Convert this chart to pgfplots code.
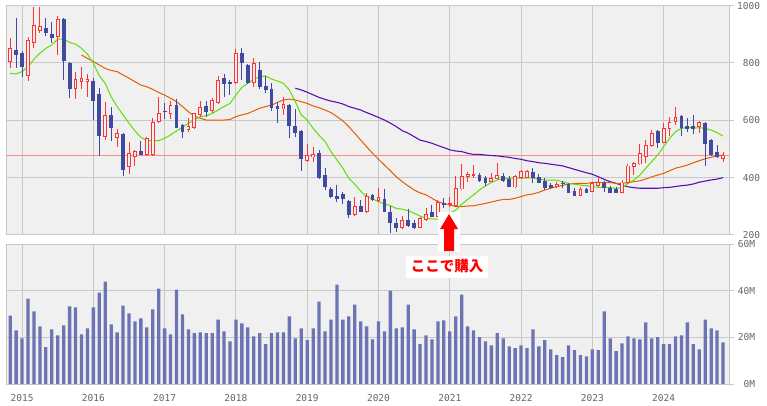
\documentclass[border=0pt]{standalone}
\usepackage{pgfplots}
\pgfplotsset{compat=1.18}
\usepackage{pgfplotstable}
\usepackage{fontspec}
\setmainfont{Liberation Sans}
\newfontfamily\lblfont{DejaVu Sans Mono}
\newfontfamily\cjk{Noto Sans CJK JP}
\definecolor{bg}{HTML}{F0F0F0}
\definecolor{gridc}{HTML}{C8C8C8}
\definecolor{upc}{HTML}{FF3333}
\definecolor{dnc}{HTML}{3F4AA0}
\definecolor{volc}{HTML}{6C74B3}
\definecolor{maA}{HTML}{5CE000}
\definecolor{maB}{HTML}{E65C00}
\definecolor{maC}{HTML}{5A10B0}
\definecolor{hline}{HTML}{FF8A8A}
\definecolor{lbl}{HTML}{666666}

\pgfplotstableread{
n o h l c
1 805 886 781 851
4 755 890 738 880
5 871 994 851 933
6 913 994 906 929
9 892 964 828 952
12 708 770 674 743
13 735 785 709 747
14 735 762 683 743
17 543 663 531 619
19 540 569 508 555
21 436 523 412 485
22 473 497 442 493
24 479 543 477 537
25 479 607 477 593
26 594 683 590 624
28 621 667 605 653
31 566 607 560 581
32 572 627 570 624
33 619 667 610 645
35 633 677 624 671
36 662 755 657 741
39 731 848 727 834
42 729 816 715 799
47 638 683 619 656
51 458 517 456 479
52 471 508 456 483
59 270 331 267 301
61 279 345 276 337
63 320 363 316 331
67 226 267 220 252
70 226 264 223 258
71 252 293 249 272
73 264 322 262 316
75 307 334 297 310
76 301 405 299 363
77 359 447 357 406
78 404 421 386 413
79 408 444 398 412
82 386 415 384 400
83 395 450 394 409
86 366 410 365 406
87 398 427 395 423
88 400 427 398 424
93 369 386 363 379
97 337 369 337 359
99 351 386 351 380
100 372 398 369 386
104 348 392 345 383
105 380 447 377 442
106 436 456 409 452
107 446 517 444 485
108 473 531 452 514
109 512 566 508 555
111 522 590 520 572
112 569 613 547 595
113 595 648 584 610
117 576 599 557 593
121 464 491 453 477
}\upC

\pgfplotstableread{
n o h l c
2 845 956 781 828
3 836 843 752 787
7 921 956 895 903
8 901 944 871 888
10 953 956 741 808
11 799 802 679 708
15 737 747 601 669
16 691 712 477 545
18 619 645 528 574
20 552 555 407 427
23 493 528 479 479
27 633 659 605 630
29 653 674 574 574
30 584 587 540 560
34 650 667 613 630
37 747 762 683 726
38 735 741 688 726
40 836 853 741 799
41 793 797 727 731
43 776 802 708 715
44 720 755 697 706
45 709 729 634 642
46 650 665 592 640
48 653 656 537 581
49 580 640 543 555
50 563 566 424 465
53 485 497 395 398
54 409 433 357 366
55 360 369 328 331
56 336 374 316 326
57 343 349 308 326
58 320 322 258 270
60 301 322 279 281
62 340 342 319 322
64 324 359 279 281
65 279 301 206 243
66 241 258 212 226
68 252 291 229 233
69 241 252 220 223
72 281 305 262 264
74 311 330 293 307
80 409 417 386 388
81 400 406 371 383
84 406 417 386 388
85 394 406 366 369
89 421 433 383 400
90 403 413 383 383
91 390 398 357 365
92 375 383 363 365
94 383 388 363 378
95 377 383 348 348
96 353 363 337 337
98 360 365 348 348
101 380 388 351 365
102 365 372 345 348
103 359 366 345 348
110 563 566 502 520
114 616 619 545 574
115 580 607 560 569
116 580 619 551 569
118 590 593 442 516
119 531 535 476 479
120 488 514 467 473
}\dnC

\pgfplotstableread{
n v
1 764
2 762
3 770
4 787
5 813
6 834
7 851
8 863
9 883
10 883
11 872
12 866
13 851
14 831
15 799
16 755
17 729
18 682
19 648
20 619
21 590
22 563
23 541
24 529
25 529
26 529
27 537
28 549
29 563
30 576
31 590
32 601
33 613
34 616
35 624
36 636
37 648
38 659
39 688
40 715
41 729
42 744
43 752
44 755
45 744
46 737
47 729
48 706
49 665
50 619
51 601
52 572
53 548
54 526
55 491
56 462
57 433
58 398
59 377
60 353
61 334
62 326
63 316
64 308
65 302
66 293
67 290
68 285
69 276
70 266
71 258
72 256
73 255
74 264
75 276
76 287
77 307
78 324
79 340
80 357
81 371
82 383
83 392
84 397
85 398
86 398
87 398
88 399
89 399
90 395
91 392
92 391
93 391
94 386
95 380
96 377
97 374
98 372
99 369
100 366
101 366
102 365
103 363
104 365
105 380
106 392
107 409
108 433
109 456
110 479
111 508
112 537
113 560
114 572
115 575
116 574
117 574
118 572
119 566
120 557
121 545
}\maA

\pgfplotstableread{
n v
13 828
14 816
15 805
16 793
17 781
18 774
19 770
20 758
21 747
22 735
23 723
24 717
25 708
26 697
27 688
28 677
29 665
30 648
31 630
32 615
33 607
34 601
35 601
36 601
37 601
38 603
39 613
40 619
41 624
42 633
43 642
44 648
45 653
46 663
47 671
48 674
49 671
50 665
51 659
52 650
53 644
54 636
55 627
56 613
57 598
58 578
59 555
60 531
61 508
62 485
63 464
64 444
65 424
66 403
67 386
68 371
69 357
70 347
71 340
72 328
73 316
74 310
75 305
76 299
77 299
78 301
79 302
80 306
81 310
82 315
83 320
84 324
85 324
86 328
87 334
88 340
89 343
90 349
91 357
92 363
93 369
94 373
95 378
96 380
97 380
98 380
99 383
100 384
101 383
102 383
103 380
104 380
105 383
106 386
107 389
108 395
109 403
110 409
111 415
112 424
113 433
114 438
115 444
116 452
117 459
118 466
119 471
120 476
121 479
}\maB

\pgfplotstableread{
n v
49 712
50 706
51 698
52 689
53 680
54 673
55 667
56 663
57 657
58 648
59 642
60 636
61 627
62 619
63 610
64 601
65 590
66 578
67 564
68 555
69 543
70 531
71 526
72 520
73 512
74 505
75 497
76 493
77 491
78 485
79 481
80 481
81 479
82 477
83 476
84 473
85 471
86 467
87 464
88 459
89 456
90 452
91 450
92 447
93 444
94 441
95 435
96 429
97 423
98 417
99 412
100 403
101 394
102 386
103 380
104 374
105 368
106 365
107 363
108 363
109 363
110 363
111 365
112 366
113 369
114 372
115 374
116 378
117 384
118 388
119 392
120 395
121 400
}\maC

\pgfplotstableread{
n v
1 29.4
2 23.0
3 19.6
4 36.7
5 31.2
6 24.8
7 15.8
8 23.5
9 20.9
10 25.2
11 33.3
12 32.9
13 21.3
14 23.9
15 32.9
16 39.3
17 44.0
18 25.6
19 22.2
20 33.7
21 30.3
22 26.9
23 28.2
24 24.3
25 32.0
26 41.0
27 23.9
28 21.3
29 40.5
30 29.9
31 23.5
32 21.8
33 22.2
34 21.8
35 21.8
36 27.7
37 22.6
38 18.3
39 27.7
40 26.0
41 24.3
42 20.5
43 21.8
44 17.1
45 21.8
46 22.2
47 22.2
48 29.0
49 19.6
50 23.9
51 18.8
52 23.9
53 35.4
54 22.6
55 27.7
56 42.7
57 27.7
58 29.0
59 34.1
60 26.9
61 24.8
62 19.2
63 26.9
64 22.6
65 40.1
66 23.9
67 24.3
68 34.1
69 23.5
70 17.1
71 20.9
72 19.2
73 26.9
74 27.3
75 22.6
76 29.0
77 38.4
78 24.8
79 23.0
80 20.1
81 18.3
82 16.6
83 21.8
84 19.6
85 16.2
86 15.4
87 16.6
88 15.4
89 23.5
90 16.2
91 18.8
92 14.9
93 12.4
94 11.5
95 16.6
96 14.5
97 12.4
98 11.9
99 14.9
100 14.5
101 31.2
102 19.6
103 14.1
104 17.5
105 20.5
106 19.6
107 19.2
108 26.5
109 19.6
110 20.1
111 17.1
112 17.1
113 20.5
114 20.9
115 26.5
116 17.1
117 14.9
118 27.7
119 23.9
120 23.0
121 17.9
}\vol

\pgfplotsset{
  chartbase/.style={
    scale only axis, width=722.9pt,
    xmin=0.343, xmax=122.04,
    axis background/.style={fill=bg},
    axis line style={draw=gridc, line width=1pt},
    xtick={3,15,...,111},
    ytick pos=right, yticklabel pos=right,
    tick align=outside, major tick length=5pt,
    xtick style={draw=none},
    ytick style={draw=gridc, line width=1pt},
    yticklabel style={font=\lblfont\fontsize{9.5}{11}\selectfont, text=lbl, anchor=east, inner sep=0pt},
    xticklabel style={font=\lblfont\fontsize{9.5}{11}\selectfont, text=lbl, anchor=north, inner sep=0pt},
    grid=major, grid style={draw=gridc, line width=1pt},
    /pgf/number format/assume math mode=true,
    /pgf/number format/1000 sep={},
  },
  wick/.style={draw=none, no markers, forget plot,
    error bars/.cd, y dir=plus, y explicit, error mark=none,
    error bar style={draw=#1, line width=1pt, solid}},
  body/.style 2 args={draw=none, no markers, forget plot,
    error bars/.cd, y dir=both, y explicit, error mark=none,
    error bar style={draw=#1, line width=#2, solid}},
}

\begin{document}
\begin{tikzpicture}
\useasboundingbox (0pt,0pt) rectangle (767pt,-405pt);
\fill[white] (0pt,0pt) rectangle (767pt,-405pt);

\begin{axis}[chartbase,
  at={(6.3pt,-5.67pt)}, anchor=north west, height=229.3pt,
  ymin=200, ymax=1000, ytick={200,400,...,1000},
  xticklabels={},
  yticklabel style={xshift=26pt},
]
\addplot[hline, line width=1pt, forget plot] coordinates {(0.343,478) (122.04,478)};
\addplot[maC, line width=1.1pt, forget plot] table[x=n, y=v] \maC;
\addplot[maB, line width=1pt, forget plot] table[x=n, y=v] \maB;
\addplot[maA, line width=1pt, forget plot] table[x=n, y=v] \maA;
% wicks
\addplot[wick=dnc] table[x=n, y=l, y error expr={\thisrow{h}-\thisrow{l}}] \dnC;
\addplot[wick=upc] table[x=n, y=l, y error expr={\thisrow{h}-\thisrow{l}}] \upC;
% bodies
\addplot[body={dnc}{3.8pt}] table[x=n, y expr={(\thisrow{o}+\thisrow{c})/2}, y error expr={max(abs(\thisrow{c}-\thisrow{o})/2,1.5)}] \dnC;
\addplot[body={upc}{3.8pt}] table[x=n, y expr={(\thisrow{o}+\thisrow{c})/2}, y error expr={max(abs(\thisrow{c}-\thisrow{o})/2,1.5)}] \upC;
\addplot[body={bg}{1.9pt}] table[x=n, y expr={(\thisrow{o}+\thisrow{c})/2}, y error expr={max(abs(\thisrow{c}-\thisrow{o})/2-3.1,0)}] \upC;
\end{axis}

\begin{axis}[chartbase,
  at={(6.3pt,-244.3pt)}, anchor=north west, height=139.7pt,
  ymin=0, ymax=60, ytick={0,20,40,60},
  yticklabels={0M,20M,40M,60M},
  xticklabels={2015,2016,2017,2018,2019,2020,2021,2022,2023,2024},
  yticklabel style={xshift=21pt},
  xticklabel style={yshift=-5pt},
]
\addplot[ybar, bar width=3.3pt, fill=volc, draw=none] table[x=n, y=v] \vol;
\end{axis}

% annotation
\fill[white] (437.5pt,-212pt) rectangle (460pt,-252pt);
\fill[red] (449pt,-214pt) -- (458pt,-229pt) -- (454pt,-229pt) -- (454pt,-251pt)
  -- (444pt,-251pt) -- (444pt,-229pt) -- (440pt,-229pt) -- cycle;
\node[fill=white, text=red, inner sep=0pt, minimum width=82pt, minimum height=22pt,
  font=\cjk\bfseries\fontsize{14.5}{16}\selectfont] at (447pt,-266.5pt) {ここで購入};
\end{tikzpicture}
\end{document}
